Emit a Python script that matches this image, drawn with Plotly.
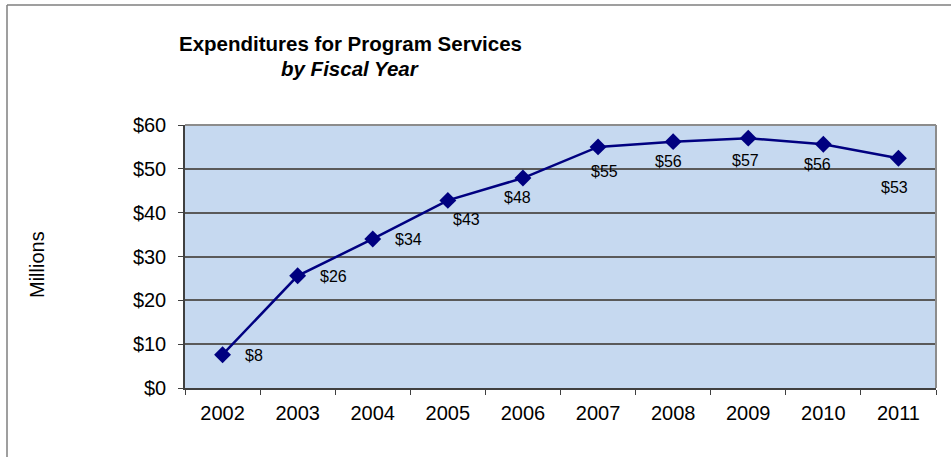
import plotly.graph_objects as go

years = ["2002", "2003", "2004", "2005", "2006", "2007", "2008", "2009", "2010", "2011"]
spending = [7.6, 25.6, 34.0, 42.8, 47.9, 55.0, 56.2, 57.0, 55.6, 52.4]
labels = ["$8", "$26", "$34", "$43", "$48", "$55", "$56", "$57", "$56", "$53"]

# label placement offsets (pixels) relative to each point
label_dx = [31, 36, 36, 19, -5, 6, -5, -3, -6, -4]
label_dy = [-1, -1, -1, -19, -19, -25, -20, -22, -20, -29]

W, H = 951, 457
L, R, T, B = 185, 15, 125, 69
pw, ph = W - L - R, H - T - B

def px_x(p):
    return (p - L) / pw

def px_y(p):
    return (H - B - p) / ph

FONT = "Liberation Sans, Arial, sans-serif"
navy = "#000080"

fig = go.Figure()
fig.add_trace(go.Scatter(
    x=years, y=spending, mode="lines+markers",
    line=dict(color=navy, width=2.5),
    marker=dict(symbol="diamond", size=13, color=navy),
    hoverinfo="skip", showlegend=False,
))

annotations = []
for i, (v, t, dx, dy) in enumerate(zip(spending, labels, label_dx, label_dy)):
    annotations.append(dict(
        x=i, y=v, xref="x", yref="y", text=t, showarrow=False,
        xshift=dx, yshift=dy, xanchor="center", yanchor="middle",
        font=dict(family=FONT, size=16, color="#000000"),
    ))

annotations.append(dict(
    xref="paper", yref="paper", x=px_x(350), y=px_y(43),
    text="<b>Expenditures for Program Services</b>",
    showarrow=False, xanchor="center", yanchor="middle",
    font=dict(family=FONT, size=20.5, color="#000000"),
))
annotations.append(dict(
    xref="paper", yref="paper", x=px_x(350), y=px_y(68),
    text="<b><i>by Fiscal Year</i></b>",
    showarrow=False, xanchor="center", yanchor="middle",
    font=dict(family=FONT, size=20.5, color="#000000"),
))
annotations.append(dict(
    xref="paper", yref="paper", x=px_x(37), y=px_y(265),
    text="Millions", textangle=-90,
    showarrow=False, xanchor="center", yanchor="middle",
    font=dict(family=FONT, size=20, color="#000000"),
))

shapes = [
    # outer chart frame (left and top edges visible)
    dict(type="line", xref="paper", yref="paper",
         x0=px_x(7), x1=px_x(7), y0=px_y(5), y1=px_y(470),
         line=dict(color="#7f7f7f", width=1.5)),
    dict(type="line", xref="paper", yref="paper",
         x0=px_x(7), x1=px_x(960), y0=px_y(5), y1=px_y(5),
         line=dict(color="#7f7f7f", width=1.5)),
    # plot area border top/right
    dict(type="line", xref="paper", yref="paper",
         x0=0, x1=1, y0=1, y1=1, line=dict(color="#8c8c8c", width=2)),
    dict(type="line", xref="paper", yref="paper",
         x0=1, x1=1, y0=0, y1=1, line=dict(color="#8c8c8c", width=2)),
]

fig.update_layout(
    width=W, height=H,
    margin=dict(l=L, r=R, t=T, b=B),
    paper_bgcolor="white",
    plot_bgcolor="#C6D9F0",
    annotations=annotations,
    shapes=shapes,
    font=dict(family=FONT, size=20, color="#000000"),
)

fig.update_xaxes(
    type="category", tickson="boundaries",
    ticks="outside", ticklen=5, tickcolor="#404040", tickwidth=1.2,
    showline=True, linecolor="#404040", linewidth=1.5,
    showgrid=False, zeroline=False,
    tickfont=dict(family=FONT, size=20, color="#000000"),
    ticklabelstandoff=6,
    range=[-0.5, 9.5],
)
fig.update_yaxes(
    range=[0, 60], dtick=10, tickprefix="$",
    ticks="outside", ticklen=5, tickcolor="#404040", tickwidth=1.2,
    showline=True, linecolor="#404040", linewidth=1.5,
    showgrid=True, gridcolor="#5a5a5a", gridwidth=1.5,
    zeroline=False,
    tickfont=dict(family=FONT, size=20, color="#000000"),
    ticklabelstandoff=8,
)

fig.write_html(
    "out.html",
    config={"displayModeBar": False},
    post_script="document.body.style.margin='0';document.body.style.padding='0';",
)
